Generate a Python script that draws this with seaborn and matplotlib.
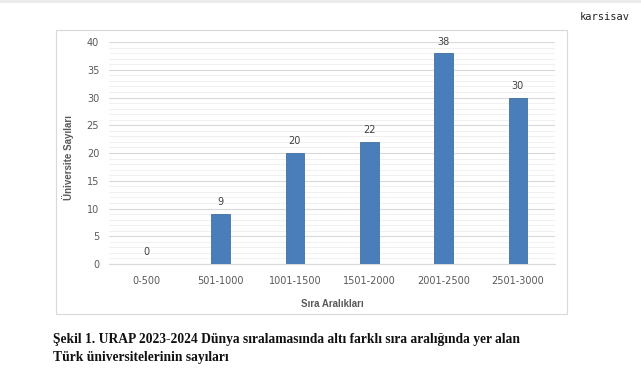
import matplotlib
matplotlib.use("Agg")
import matplotlib.pyplot as plt
import seaborn as sns
import pandas as pd
from matplotlib.patches import Rectangle

ranges = ["0-500", "501-1000", "1001-1500", "1501-2000", "2001-2500", "2501-3000"]
counts = [0, 9, 20, 22, 38, 30]
y_ticks = [0, 5, 10, 15, 20, 25, 30, 35, 40]

df = pd.DataFrame({"range": ranges, "count": counts})

sns.set_style("white")
plt.rcParams['font.family'] = ['DejaVu Sans']

fig = plt.figure(figsize=(6.41, 3.80), dpi=100)
ax = fig.add_axes([0.170, 0.3053, 0.696, 0.584])

# chart frame
fig.patches.append(Rectangle((56 / 641, 1 - 314 / 380), (567 - 56) / 641, (314 - 30) / 380,
                             transform=fig.transFigure, fill=False, edgecolor="#d9d9d9", linewidth=0.8))
# top strip
fig.patches.append(Rectangle((0, 1 - 3 / 380), 1, 3 / 380, transform=fig.transFigure,
                             facecolor="#ececec", edgecolor="none"))

sns.barplot(data=df, x="range", y="count", color="#4a7ebb", width=0.25,
            edgecolor="#41719c", linewidth=0.6, saturation=1, ax=ax, zorder=3)

ax.set_ylim(0, 40)
ax.set_xlim(-0.5, len(ranges) - 0.5)
ax.set_yticks(y_ticks)
ax.set_yticks(range(0, 41), minor=True)
ax.grid(axis="y", which="minor", color="#f0f0f0", linewidth=0.7, zorder=0)
ax.grid(axis="y", which="major", color="#d9d9d9", linewidth=0.8, zorder=1)
for s in ["top", "right", "left"]:
    ax.spines[s].set_visible(False)
ax.spines["bottom"].set_color("#d9d9d9")
ax.tick_params(axis="both", which="both", length=0, labelsize=7, labelcolor="#595959")
ax.tick_params(axis="y", pad=7)
ax.tick_params(axis="x", pad=9)

for i, v in enumerate(counts):
    ax.text(i, v + 1.2, str(v), ha="center", va="bottom", fontsize=7, color="#404040")

ax.set_xlabel("Sıra Aralıkları", fontsize=7, color="#595959", fontweight="bold",
              family="Liberation Sans", labelpad=9)
ax.set_ylabel("Üniversite Sayıları", fontsize=7, color="#595959", fontweight="bold",
              family="Liberation Sans", labelpad=0)
ax.yaxis.set_label_coords(-0.078, 0.48)

fig.text(580 / 641, 1 - 17 / 380, "karsisav", fontsize=7.5, family="DejaVu Sans Mono", ha="left", va="center", color="#222222")
fig.text(53 / 641, 1 - 339 / 380, "Şekil 1. URAP 2023-2024 Dünya sıralamasında altı farklı sıra aralığında yer alan",
         fontsize=9.75, fontweight="bold", family="Liberation Serif", ha="left", va="center", color="#111111")
fig.text(53 / 641, 1 - 357 / 380, "Türk üniversitelerinin sayıları",
         fontsize=9.75, fontweight="bold", family="Liberation Serif", ha="left", va="center", color="#111111")

fig.savefig("out.png", dpi=100, facecolor="white")
